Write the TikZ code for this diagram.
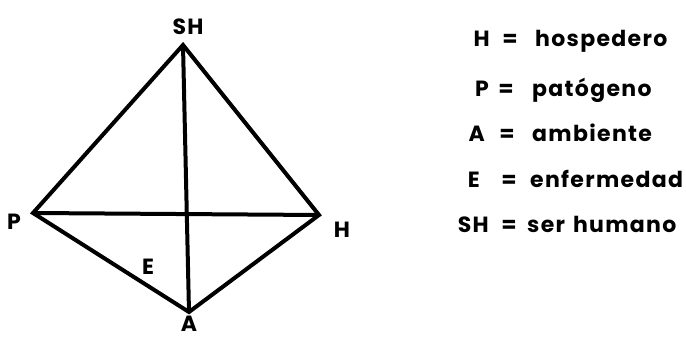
\documentclass[tikz,border=0pt]{standalone}
\usepackage{fontspec}
\setmainfont{Poppins}[BoldFont={Poppins Bold},LetterSpace=6]
\begin{document}
\begin{tikzpicture}[x=1pt,y=-1pt,
  edge/.style={line width=4pt,line join=miter,line cap=butt},
  lbl/.style={font=\fontsize{22}{26}\selectfont\bfseries,inner sep=0pt,anchor=center},
  leg/.style={font=\fontsize{22}{26}\selectfont\bfseries,inner sep=0pt,anchor=base west}]
\useasboundingbox (0,0) rectangle (686,339);
\coordinate (SH) at (183,45);
\coordinate (P) at (33,213);
\coordinate (H) at (319,215);
\coordinate (A) at (189,312);
\draw[edge] (P) -- (SH) -- (H) -- (A) -- cycle;
\draw[edge] (SH) -- (A);
\draw[edge] (P) -- (H);
\node[lbl] (tSH) at (188,27) {SH};
\node[lbl] (tP) at (14,222) {P};
\node[lbl] (tH) at (342,230) {H};
\node[lbl] (tA) at (189,324) {A};
\node[lbl] (tE) at (148,267) {E};
\node[leg,anchor=base east] (k1) at (490,47) {H};
\node[leg,anchor=base] (e1) at (510,47) {=};
\node[leg] (v1) at (535,47) {hospedero};
\node[leg,anchor=base east] (k2) at (489,97) {P};
\node[leg,anchor=base] (e2) at (506,97) {=};
\node[leg] (v2) at (532,97) {patógeno};
\node[leg,anchor=base east] (k3) at (485,142) {A};
\node[leg,anchor=base] (e3) at (507,142) {=};
\node[leg] (v3) at (532,142) {ambiente};
\node[leg,anchor=base east] (k4) at (480,188) {E};
\node[leg,anchor=base] (e4) at (509,188) {=};
\node[leg] (v4) at (530,188) {enfermedad};
\node[leg,anchor=base east] (k5) at (489,233) {SH};
\node[leg,anchor=base] (e5) at (509,233) {=};
\node[leg] (v5) at (527,233) {ser\hspace{8pt}humano};
\end{tikzpicture}
\end{document}
